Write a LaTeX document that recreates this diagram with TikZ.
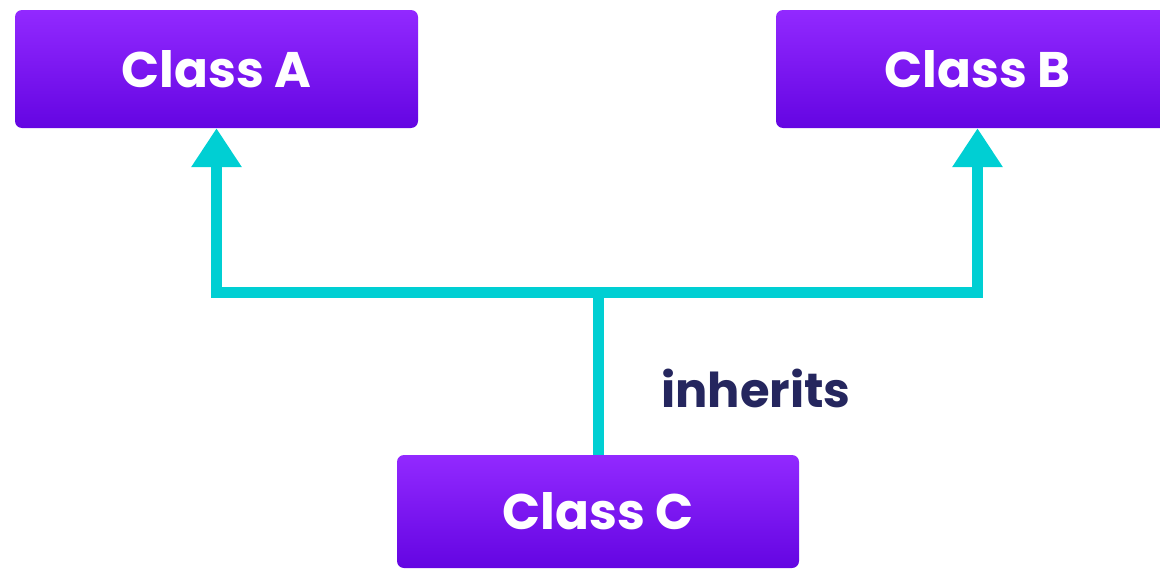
\documentclass[tikz,border=0pt]{standalone}
\usepackage{fontspec}
\setmainfont{Poppins}
\usetikzlibrary{arrows.meta}
\definecolor{boxtop}{HTML}{9229FF}
\definecolor{boxbot}{HTML}{6405E2}
\definecolor{linkc}{HTML}{00CFD3}
\definecolor{labelc}{HTML}{25265E}
\tikzset{
  classbox/.style={rectangle, rounded corners=7pt, top color=boxtop, bottom color=boxbot,
    draw=none, text=white, font=\fontsize{50}{54}\selectfont\bfseries,
    minimum width=403pt, minimum height=118pt, inner sep=0pt},
  link/.style={draw=linkc, line width=11pt},
  linkarrow/.style={link, -{Triangle[width=48pt,length=39pt]}},
  lbl/.style={text=labelc, font=\fontsize{48}{52}\selectfont\bfseries, inner sep=0pt}
}
\begin{document}
\begin{tikzpicture}[x=1pt,y=-1pt]
\useasboundingbox (0,0) rectangle (1160,570);
\node[classbox] (A) at (216.5,69) {Class A};
\node[classbox] (B) at (977.5,69) {Class B};
\node[classbox, minimum width=402pt, minimum height=113pt] (C) at (598,511.5) {Class C};
\coordinate (j) at (598,292);
\draw[link] (C.north) -- (j);
\draw[linkarrow] (j) -| (A.south);
\draw[linkarrow] (j) -| (B.south);
\node[lbl] (inh) at (756,388) {inherits};
\end{tikzpicture}
\end{document}
